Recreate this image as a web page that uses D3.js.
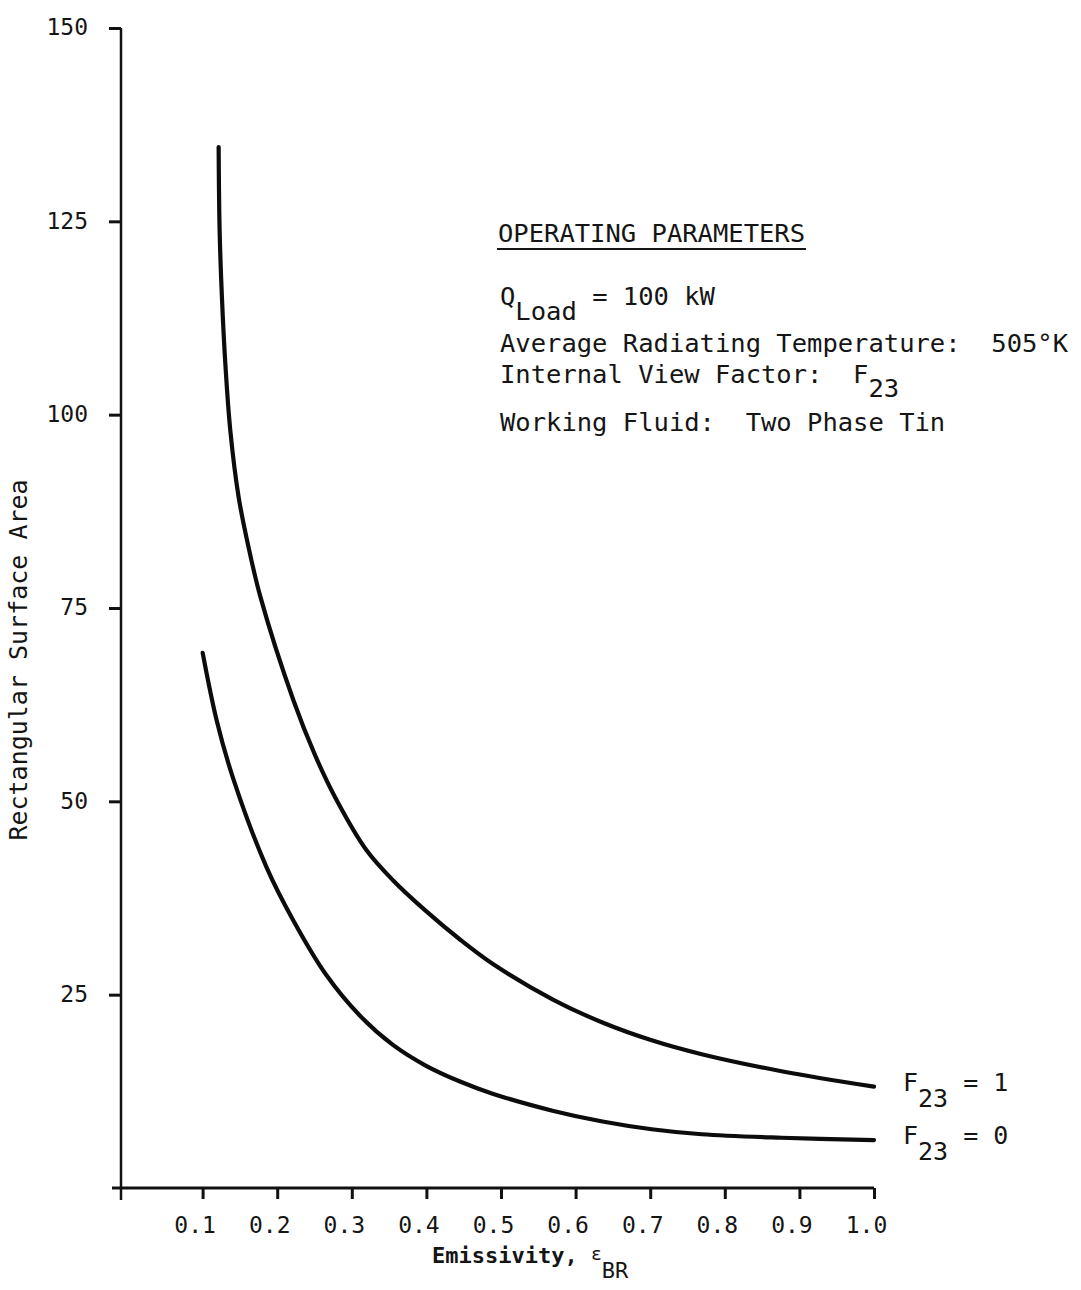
<!DOCTYPE html>
<html>
<head>
<meta charset="utf-8">
<script src="https://cdn.jsdelivr.net/npm/d3@7"></script>
<style>
  body { margin: 0; background: #fff; }
  svg text { font-family: "DejaVu Sans Mono", "Liberation Mono", monospace; fill: #151515; white-space: pre; }
</style>
</head>
<body>
<div id="wrapper"></div>
<script>
// curve F23 = 1 (upper)
const emissivityF1 = [0.1215, 0.1228, 0.1259, 0.1304, 0.1371, 0.1482, 0.1615, 0.1776, 0.2216, 0.2506, 0.2794, 0.3195, 0.3551, 0.3996, 0.4442, 0.4887, 0.569, 0.636, 0.702, 0.769, 0.876, 1.0];
const areaF1 = [134.6, 123.9, 115.2, 106.7, 98.0, 89.4, 82.9, 76.4, 63.1, 56.0, 50.2, 43.7, 39.8, 35.8, 32.2, 29.0, 24.4, 21.4, 19.1, 17.3, 15.1, 13.1];

// curve F23 = 0 (lower)
const emissivityF0 = [0.1001, 0.1188, 0.1415, 0.1856, 0.2216, 0.2661, 0.3107, 0.3551, 0.3996, 0.4442, 0.4887, 0.569, 0.636, 0.702, 0.769, 0.876, 1.0];
const areaF0 = [69.2, 60.5, 52.8, 41.5, 34.6, 27.5, 22.3, 18.5, 15.8, 13.8, 12.2, 10.0, 8.6, 7.6, 6.95, 6.5, 6.2];

const seriesValues = ["1", "0"];
const xTicks = [0.1, 0.2, 0.3, 0.4, 0.5, 0.6, 0.7, 0.8, 0.9, 1.0];
const yTicks = [25, 50, 75, 100, 125, 150];

const drawChart = () => {

  const width = 1081;
  const height = 1290;

  const svg = d3.select("#wrapper")
    .append("svg")
    .attr("width", width)
    .attr("height", height);

  // scales
  const x = d3.scaleLinear()
    .domain([0, 1])
    .range([128, 874]);

  const y = d3.scaleLinear()
    .domain([0, 150])
    .range([1188, 28]);

  const axisX0 = 121;

  // y axis, ticks pointing outwards
  const yAxis = svg.append("g")
    .attr("transform", `translate(${axisX0}, 0)`)
    .call(d3.axisLeft(y).tickValues(yTicks).tickSize(12).tickPadding(21).tickFormat(d3.format("d")));
  yAxis.select(".domain").remove();
  yAxis.selectAll("line").attr("stroke", "#111").attr("stroke-width", 3);
  yAxis.selectAll("text")
    .attr("font-size", "23px")
    .attr("dy", "0.3em")
    .attr("fill", "#151515");

  // x axis
  const xAxis = svg.append("g")
    .attr("transform", `translate(0, ${y(0)})`)
    .call(d3.axisBottom(x).tickValues(xTicks).tickSize(11).tickFormat(d3.format(".1f")));
  xAxis.select(".domain").remove();
  xAxis.selectAll("line").attr("stroke", "#111").attr("stroke-width", 3);
  xAxis.selectAll("text")
    .attr("font-size", "23px")
    .attr("dy", null)
    .attr("y", 45)
    .attr("dx", -8)
    .attr("fill", "#151515");

  // axis lines, crossing at the origin
  svg.append("line")
    .attr("x1", axisX0).attr("x2", axisX0)
    .attr("y1", y(150)).attr("y2", y(0) + 12)
    .attr("stroke", "#111").attr("stroke-width", 2.5);
  svg.append("line")
    .attr("x1", axisX0 - 9).attr("x2", x(1))
    .attr("y1", y(0)).attr("y2", y(0))
    .attr("stroke", "#111").attr("stroke-width", 3);

  // curves
  const line = d3.line()
    .x(d => x(d[0]))
    .y(d => y(d[1]))
    .curve(d3.curveCatmullRom.alpha(0.5));

  const series = [
    d3.zip(emissivityF1, areaF1),
    d3.zip(emissivityF0, areaF0)
  ];

  svg.append("g")
    .selectAll("path")
    .data(series)
    .join("path")
      .attr("d", line)
      .attr("fill", "none")
      .attr("stroke", "#0c0c0c")
      .attr("stroke-width", 4.2)
      .attr("stroke-linecap", "round");

  // F23 labels at the end of each curve
  const labels = svg.append("g")
    .selectAll("text")
    .data(series)
    .join("text")
      .attr("x", x(1) + 29)
      .attr("y", d => y(d[d.length - 1][1]) + 4)
      .attr("font-size", "25px");
  labels.append("tspan").text("F");
  labels.append("tspan").attr("dy", 16).text("23");
  labels.append("tspan").attr("dy", -16).text((d, i) => " = " + seriesValues[i]);

  // operating parameters block
  const info = svg.append("g").attr("font-size", "25.5px");
  info.append("text").attr("x", 498).attr("y", 242).text("OPERATING PARAMETERS");
  info.append("line")
    .attr("x1", 497).attr("x2", 806)
    .attr("y1", 249).attr("y2", 249)
    .attr("stroke", "#151515").attr("stroke-width", 2.2);

  const q = info.append("text").attr("x", 500).attr("y", 305);
  q.append("tspan").text("Q");
  q.append("tspan").attr("dy", 15).text("Load");
  q.append("tspan").attr("dy", -15).text(" = 100 kW");

  info.append("text").attr("x", 500).attr("y", 352)
    .text("Average Radiating Temperature:  505°K");

  const vf = info.append("text").attr("x", 500).attr("y", 383);
  vf.append("tspan").text("Internal View Factor:  F");
  vf.append("tspan").attr("dy", 14).text("23");

  info.append("text").attr("x", 500).attr("y", 431)
    .text("Working Fluid:  Two Phase Tin");

  // axis titles
  const xTitle = svg.append("text")
    .attr("x", 432)
    .attr("y", 1263)
    .attr("font-size", "22px")
    .attr("font-weight", "bold");
  xTitle.append("tspan").text("Emissivity, ");
  xTitle.append("tspan").attr("font-weight", "normal").attr("font-size", "18px").attr("dy", -3).text("ε");
  xTitle.append("tspan").attr("dy", 18).attr("font-weight", "normal").text("BR");

  svg.append("text")
    .attr("transform", "translate(27, 660) rotate(-90)")
    .attr("text-anchor", "middle")
    .attr("font-size", "25px")
    .text("Rectangular Surface Area");
};

drawChart();
</script>
</body>
</html>
